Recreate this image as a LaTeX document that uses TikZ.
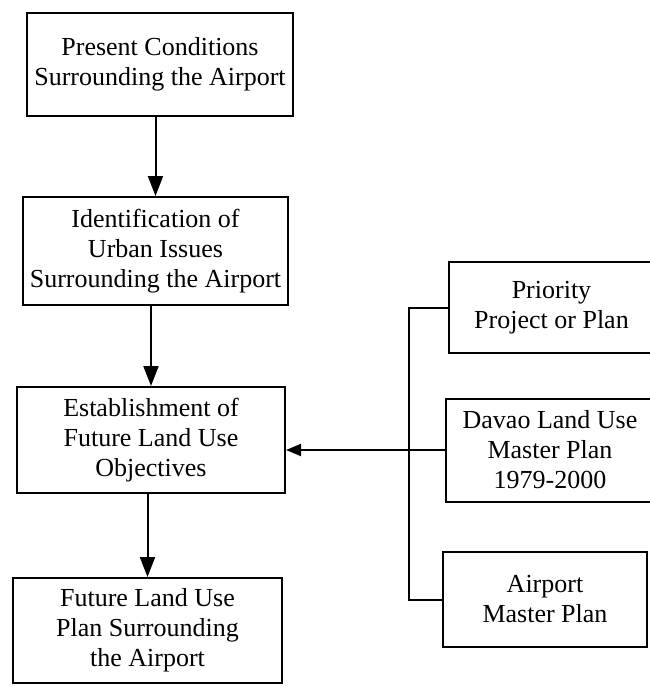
\documentclass[tikz,border=0pt]{standalone}
\usepackage{fontspec}
\setmainfont{Liberation Serif}
\usetikzlibrary{arrows.meta}
\tikzset{
  box/.style={draw, line width=2pt, align=center, inner sep=0pt,
    font=\fontsize{26}{30}\selectfont},
  arr/.style={line width=2pt, -{Triangle[width=15pt,length=20pt]}},
  sarr/.style={line width=2pt, -{Triangle[width=12pt,length=15pt]}},
  link/.style={line width=2pt}
}
\begin{document}
\begin{tikzpicture}[x=1pt,y=-1pt]
\useasboundingbox (0,0) rectangle (650,686);
\clip (0,0) rectangle (650,686);
\node[box, minimum width=266pt, minimum height=103pt] (b1) at (160,64.5)
  {Present Conditions\\Surrounding the Airport};
\node[box, minimum width=265pt, minimum height=108pt] (b2) at (155.5,251)
  {Identification of\\Urban Issues\\Surrounding the Airport};
\node[box, minimum width=268pt, minimum height=106pt] (b3) at (151,440)
  {Establishment of\\Future Land Use\\Objectives};
\node[box, minimum width=269pt, minimum height=105pt] (b4) at (147.5,630.5)
  {Future Land Use\\Plan Surrounding\\the Airport};
\node[box, minimum width=205pt, minimum height=91pt] (pr) at (551.5,307.5)
  {Priority\\Project or Plan};
\node[box, minimum width=208pt, minimum height=103pt] (dv) at (550,450)
  {Davao Land Use\\Master Plan\\1979-2000};
\node[box, minimum width=204pt, minimum height=95pt] (ap) at (545,599.5)
  {Airport\\Master Plan};
\coordinate (bus) at (409,0);
\draw[arr] (b2.north |- b1.south) -- (b2.north);
\draw[arr] (b3.north |- b2.south) -- (b3.north);
\draw[arr] (b4.north |- b3.south) -- (b4.north);
\draw[link] (pr.west) -- (pr.west -| bus) -- (ap.west -| bus) -- (ap.west);
\draw[sarr] (dv.west) -- (dv.west -| b3.east);
\end{tikzpicture}
\end{document}
